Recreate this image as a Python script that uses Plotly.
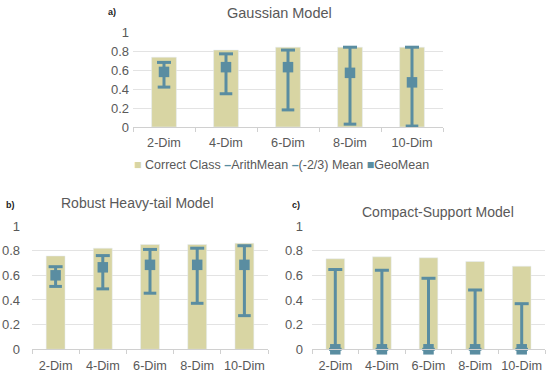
import plotly.graph_objects as go

categories = ["2-Dim", "4-Dim", "6-Dim", "8-Dim", "10-Dim"]

# a) Gaussian Model
gauss_correct = [0.735, 0.81, 0.84, 0.84, 0.84]
gauss_arith = [0.68, 0.77, 0.81, 0.84, 0.84]
gauss_m23 = [0.42, 0.35, 0.18, 0.03, 0.01]
gauss_geo = [0.58, 0.63, 0.63, 0.57, 0.47]

# b) Robust Heavy-tail Model
robust_correct = [0.757, 0.82, 0.85, 0.85, 0.86]
robust_arith = [0.67, 0.76, 0.81, 0.82, 0.84]
robust_m23 = [0.51, 0.49, 0.455, 0.373, 0.273]
robust_geo = [0.60, 0.665, 0.685, 0.685, 0.685]

# c) Compact-Support Model
compact_correct = [0.734, 0.75, 0.742, 0.712, 0.674]
compact_arith = [0.647, 0.641, 0.576, 0.481, 0.37]
compact_m23 = [0.0, 0.0, 0.0, 0.0, 0.0]
compact_geo = [0.0, 0.0, 0.0, 0.0, 0.0]

series_names = ["Correct Class", "ArithMean", "(-2/3) Mean", "GeoMean"]

BAR = "#D8D5A3"
BLUE = "#5A8DA1"
GRID = "#E3E3E3"
TXT = "#595959"
FONT = "Liberation Sans, Arial, sans-serif"

fig = go.Figure()

panels = [
    (gauss_correct, gauss_arith, gauss_m23, gauss_geo, "x", "y"),
    (robust_correct, robust_arith, robust_m23, robust_geo, "x2", "y2"),
    (compact_correct, compact_arith, compact_m23, compact_geo, "x3", "y3"),
]

for corr, arith, m23, geo, xa, ya in panels:
    fig.add_trace(go.Bar(x=categories, y=corr, name=series_names[0], marker_color=BAR,
                         width=0.4, xaxis=xa, yaxis=ya, showlegend=False))
    fig.add_trace(go.Scatter(
        x=categories, y=m23, mode="markers", name=series_names[2],
        marker=dict(symbol="line-ew", size=9, line=dict(color=BLUE, width=3)),
        xaxis=xa, yaxis=ya, showlegend=False, cliponaxis=False))
    fig.add_trace(go.Scatter(
        x=categories, y=arith, mode="markers", name=series_names[1],
        marker=dict(symbol="line-ew", size=10, line=dict(color=BLUE, width=3)),
        xaxis=xa, yaxis=ya, showlegend=False, cliponaxis=False))
    fig.add_trace(go.Scatter(
        x=categories, y=geo, mode="markers", name=series_names[3],
        marker=dict(symbol="square", size=10.5, color=BLUE),
        error_y=dict(type="data", symmetric=False,
                     array=[a - g for a, g in zip(arith, geo)],
                     arrayminus=[g - m for g, m in zip(geo, m23)],
                     color=BLUE, thickness=3, width=0),
        xaxis=xa, yaxis=ya, showlegend=False, cliponaxis=False))

H = 373.0
W = 550.0

def xd(a, b):
    return [a / W, b / W]

def yd(top, bottom):
    return [1 - bottom / H, 1 - top / H]

xcommon = dict(type="category", showline=True, linecolor="#D0D0D0", linewidth=1,
               ticks="outside", tickson="boundaries", ticklen=4, tickcolor="#D0D0D0",
               tickangle=0, automargin=False, ticklabelstandoff=4,
               tickfont=dict(size=12.7, color=TXT, family=FONT), showgrid=False)
ycommon = dict(range=[0, 1], dtick=0.2, showgrid=True, gridcolor=GRID, gridwidth=1,
               zeroline=False, showline=False, ticks="", automargin=False,
               tickfont=dict(size=13, color=TXT, family=FONT))

legend_text = (
    f"<span style='color:{BAR}'>■</span> {series_names[0]} "
    f"<span style='color:{BLUE}'><b>–</b></span>{series_names[1]} "
    f"<span style='color:{BLUE}'><b>–</b></span>{series_names[2]} "
    f"<span style='color:{BLUE}'>■</span>{series_names[3]}"
)

def ann(text, x, y, size, color=TXT, xanchor="center"):
    return dict(text=text, x=x / W, y=1 - y / H, xref="paper", yref="paper",
                showarrow=False, xanchor=xanchor, yanchor="middle",
                font=dict(size=size, color=color, family=FONT))

fig.update_layout(
    width=550, height=373,
    margin=dict(l=0, r=0, t=0, b=0, autoexpand=False),
    paper_bgcolor="white", plot_bgcolor="white",
    barmode="overlay",
    showlegend=False,
    font=dict(family=FONT, color=TXT),
    xaxis=dict(domain=xd(133, 443), anchor="y", **xcommon),
    yaxis=dict(domain=yd(32, 127), anchor="x", ticklabelstandoff=3, **ycommon),
    xaxis2=dict(domain=xd(32, 268), anchor="y2", **xcommon),
    yaxis2=dict(domain=yd(226, 349.3), anchor="x2", ticklabelstandoff=11, **ycommon),
    xaxis3=dict(domain=xd(312, 545), anchor="y3", **xcommon),
    yaxis3=dict(domain=yd(226, 349.3), anchor="x3", ticklabelstandoff=8, **ycommon),
    annotations=[
        ann(legend_text, 281, 165, 12.5),
        ann("Gaussian Model", 280, 13, 14.5),
        ann("Robust Heavy-tail Model", 137, 203, 14),
        ann("Compact-Support Model", 438, 212, 14),
        ann("<b>a)</b>", 106, 12, 9, "#222", "left"),
        ann("<b>b)</b>", 4, 205, 9, "#222", "left"),
        ann("<b>c)</b>", 290, 205, 9, "#222", "left"),
    ],
)

fig.write_html("out.html", config={"displayModeBar": False},
               post_script="document.body.style.margin='0';document.body.style.overflow='hidden';")
